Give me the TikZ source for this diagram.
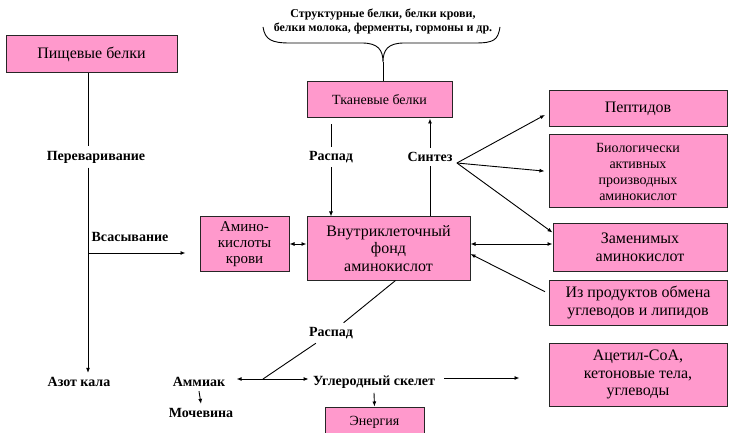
\documentclass[tikz,border=0pt]{standalone}
\usepackage{fontspec}
\setmainfont{Liberation Serif}
\usepackage{tikz}
\usetikzlibrary{arrows.meta}
\definecolor{boxpink}{HTML}{FF99CC}

\begin{document}
\begin{tikzpicture}[x=1pt,y=-1pt,line width=0.9pt,
  >={Latex[length=5pt,width=4pt]},
  box/.style={draw=black!85,line width=1pt,fill=boxpink,align=center,inner sep=0pt,
    font=\fontsize{16}{17.5}\selectfont},
  smallbox/.style={box,font=\fontsize{14}{16}\selectfont},
  lbl/.style={font=\bfseries\fontsize{14}{16}\selectfont,inner sep=4pt}]
\useasboundingbox (0,0) rectangle (729,433);
\clip (0,0) rectangle (729,433);

% boxes
\node[box,minimum width=171pt,minimum height=37pt] (pisch) at (91.5,54.5) {Пищевые белки};
\node[smallbox,minimum width=145pt,minimum height=36pt] (tkan) at (379.5,100) {Тканевые белки};
\node[smallbox,minimum width=89pt,minimum height=54pt,font=\fontsize{15}{16}\selectfont] (amino) at (244.5,244) {Амино-\\кислоты\\крови};
\node[box,minimum width=163pt,minimum height=63pt] (fond) at (388.5,248.5) {Внутриклеточный\\фонд\\аминокислот};
\node[box,minimum width=178pt,minimum height=36pt] (pept) at (638,109) {Пептидов};
\node[smallbox,minimum width=178pt,minimum height=73pt] (bio) at (638,171.5) {Биологически\\активных\\производных\\аминокислот};
\node[box,minimum width=174pt,minimum height=47pt] (zamen) at (640,247.5) {Заменимых\\аминокислот};
\node[box,minimum width=178pt,minimum height=45pt] (izprod) at (638,302.5) {Из продуктов обмена\\углеводов и липидов};
\node[box,minimum width=178pt,minimum height=63pt] (acetil) at (638,374.5) {Ацетил-CoA,\\кетоновые тела,\\углеводы};
\node[smallbox,minimum width=99pt,minimum height=30pt] (energ) at (374.5,422) {Энергия};

% labels
\node[lbl] (perev) at (96,157) {Переваривание};
\node[lbl] (vsas) at (130,237) {Всасывание};
\node[lbl] (azot) at (79,382) {Азот кала};
\node[lbl] (rasp1) at (331,157) {Распад};
\node[lbl] (sint) at (430,157) {Синтез};
\node[lbl] (rasp2) at (331,333) {Распад};
\node[lbl] (amm) at (199,382) {Аммиак};
\node[lbl] (moch) at (201,413) {Мочевина};
\node[lbl] (ugl) at (374,382) {Углеродный скелет};
\node[font=\bfseries\fontsize{12}{14}\selectfont,align=center] (struct) at (383,21)
  {Структурные белки, белки крови,\\белки молока, ферменты, гормоны и др.};

% brace
\coordinate (bt) at (383,62);
\draw (263,27) .. controls (265,40) and (272,43) .. (290,43) -- (362,43)
  .. controls (378,43) and (383,50) .. (bt) .. controls (383,50) and (388,43) .. (404,43)
  -- (475,43) .. controls (494,43) and (498,40) .. (500,27);
\draw (bt) -- (bt |- tkan.north);

% digestion
\coordinate (vs) at (88,253);
\draw (pisch.south -| vs) -- (perev.north -| vs);
\draw[->] (perev.south -| vs) -- (azot.north -| vs);
\draw[->,shorten >=14pt] (vs) -- (vs -| amino.west);
\draw[<->] (amino.east) -- (amino.east -| fond.west);

% tissue proteins
\draw[shorten <=6pt] (tkan.south -| rasp1) -- (rasp1.north);
\draw[->] (rasp1.south) -- (rasp1.south |- fond.north);
\draw (fond.north -| sint) -- (sint.south);
\draw[->] (sint.north) -- (sint.north |- tkan.south);

% synthesis
\coordinate (s0) at ([yshift=-6pt]sint.east);
\draw[->,shorten >=4pt] (s0) -- ([yshift=-4pt]pept.west);
\draw[->,shorten >=4pt] (s0) -- (bio.west);
\draw[->] (s0) -- ([yshift=-9pt]zamen.north west);
\draw[<->] ([yshift=4.5pt]fond.east) -- ([yshift=4.5pt]fond.east -| zamen.west);
\draw[<-,shorten >=4pt] ([yshift=-5.5pt]fond.east) -- ([yshift=9pt]izprod.west);

% breakdown
\coordinate (j) at (263,379);
\draw ([xshift=7pt]fond.south) -- (rasp2);
\draw (rasp2) -- (j);
\draw[<->,shorten <=7pt] ([yshift=3pt]amm.east) -- ([yshift=3pt]ugl.west);
\draw[->] (amm.south) -- (moch.north);
\draw[->] (ugl.south) -- (energ.north);
\draw[->,shorten <=5pt,shorten >=29pt] ([yshift=4pt]ugl.east) -- ([yshift=4pt]ugl.east -| acetil.west);
\end{tikzpicture}
\end{document}
